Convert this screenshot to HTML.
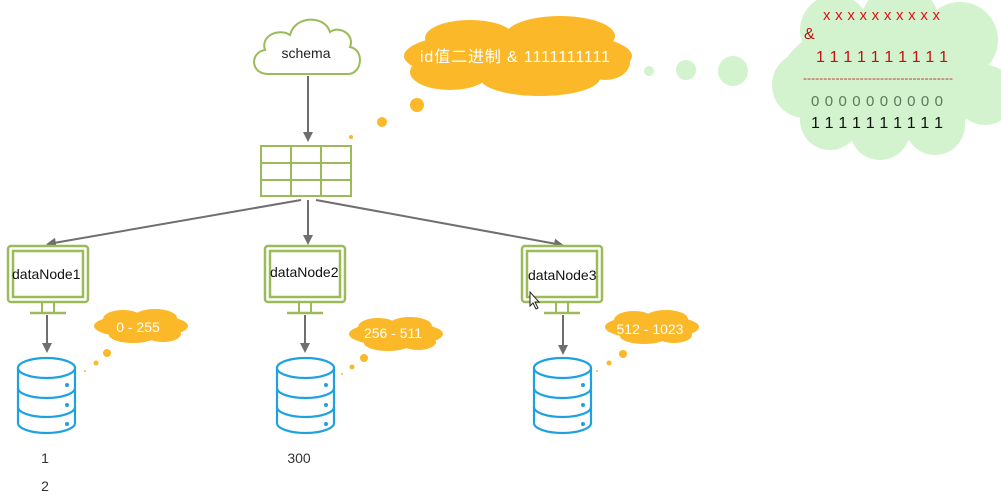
<!DOCTYPE html>
<html><head><meta charset="utf-8"><style>
html,body{margin:0;padding:0;background:#fff;width:1001px;height:496px;overflow:hidden}
svg{display:block}
text{font-family:"Liberation Sans","Noto Sans CJK SC",sans-serif}
</style></head><body>
<svg width="1001" height="496" viewBox="0 0 1001 496" xmlns="http://www.w3.org/2000/svg">
<defs>
<marker id="ar" markerWidth="10" markerHeight="10" refX="8" refY="5" orient="auto" markerUnits="userSpaceOnUse">
<path d="M0,0 L10,5 L0,10 Z" fill="#6f6f6f"/></marker>
<g id="mon">
<rect x="0" y="0" width="80" height="56" rx="3" fill="#fff" stroke="#9bbb59" stroke-width="2.5"/>
<rect x="5" y="5" width="70" height="46" fill="none" stroke="#9bbb59" stroke-width="2.5"/>
<rect x="34" y="56" width="12" height="11" fill="none" stroke="#9bbb59" stroke-width="2"/>
<line x1="22" y1="67" x2="58" y2="67" stroke="#9bbb59" stroke-width="2.5"/>
</g>
<g id="db" fill="#fff" stroke="#1ea1e0" stroke-width="2.2">
<path d="M0,11 L0,66 A28.5,10 0 0 0 57,66 L57,11"/>
<ellipse cx="28.5" cy="11" rx="28.5" ry="10"/>
<path d="M0,31 A28.5,10 0 0 0 57,31" fill="none"/>
<path d="M0,50 A28.5,10 0 0 0 57,50" fill="none"/>
<circle cx="49" cy="28" r="2" fill="#1ea1e0" stroke="none"/>
<circle cx="49" cy="48" r="2" fill="#1ea1e0" stroke="none"/>
<circle cx="49" cy="67" r="2" fill="#1ea1e0" stroke="none"/>
</g>
<g id="oc" fill="#fbb829">
<ellipse cx="48" cy="17" rx="47" ry="12"/>
<ellipse cx="30" cy="10" rx="20" ry="9"/><ellipse cx="62" cy="9" rx="22" ry="9"/>
<ellipse cx="40" cy="26" rx="24" ry="8"/><ellipse cx="70" cy="25" rx="18" ry="8"/>
</g>
</defs>

<!-- green cloud -->
<g fill="#d3f3ce">
<ellipse cx="885" cy="80" rx="105" ry="62"/>
<circle cx="835" cy="30" r="35"/><circle cx="900" cy="25" r="40"/><circle cx="960" cy="40" r="38"/>
<circle cx="985" cy="95" r="30"/><circle cx="805" cy="85" r="33"/><circle cx="830" cy="120" r="30"/>
<circle cx="880" cy="130" r="30"/><circle cx="935" cy="125" r="30"/>
</g>
<circle cx="649" cy="71" r="5" fill="#d3f3ce"/>
<circle cx="686" cy="70" r="10" fill="#d3f3ce"/>
<circle cx="733" cy="71" r="15" fill="#d3f3ce"/>
<text x="823" y="20" font-size="15" fill="#e01010" textLength="117">x x x x x x x x x x</text>
<text x="804" y="39" font-size="16" fill="#c01010" font-family="Liberation Serif">&amp;</text>
<text x="816" y="62" font-size="16" fill="#c01010" textLength="132">1 1 1 1 1 1 1 1 1 1</text>
<text x="803" y="82" font-size="12" fill="#c03030" textLength="150">-------------------------------------</text>
<text x="811" y="106" font-size="15" fill="#5a7a5a" textLength="132">0 0 0 0 0 0 0 0 0 0</text>
<text x="811" y="128" font-size="16" fill="#111" textLength="132">1 1 1 1 1 1 1 1 1 1</text>

<!-- schema cloud -->
<path d="M268,74 C250,74 250,52 265,50 C260,35 280,28 290,35 C295,15 325,15 330,32 C340,25 355,35 350,47 C365,50 362,74 348,74 Z" fill="#fff" stroke="#9bbb59" stroke-width="2"/>
<text x="306" y="58" font-size="14" text-anchor="middle" fill="#222">schema</text>
<line x1="308" y1="76" x2="308" y2="140" stroke="#6f6f6f" stroke-width="2" marker-end="url(#ar)"/>

<!-- big orange cloud -->
<g fill="#fbb829">
<ellipse cx="518" cy="56" rx="114" ry="27"/>
<ellipse cx="470" cy="38" rx="45" ry="18"/><ellipse cx="560" cy="36" rx="55" ry="20"/>
<ellipse cx="450" cy="72" rx="40" ry="18"/><ellipse cx="540" cy="78" rx="60" ry="18"/>
<ellipse cx="605" cy="62" rx="25" ry="18"/>
</g>
<text x="420" y="62" font-size="16" fill="#fff" textLength="190">id值二进制 &amp; 1111111111</text>
<circle cx="417" cy="105" r="7" fill="#fbb829"/>
<circle cx="382" cy="122" r="5" fill="#fbb829"/>
<circle cx="351" cy="137" r="2" fill="#fbb829"/>

<!-- table -->
<g fill="none" stroke="#9bbb59" stroke-width="2">
<rect x="261" y="146" width="90" height="50"/>
<line x1="291" y1="146" x2="291" y2="196"/><line x1="321" y1="146" x2="321" y2="196"/>
<line x1="261" y1="163" x2="351" y2="163"/><line x1="261" y1="180" x2="351" y2="180"/>
</g>
<g stroke="#6f6f6f" stroke-width="2" fill="none">
<line x1="301" y1="200" x2="48" y2="244" marker-end="url(#ar)"/>
<line x1="308" y1="200" x2="308" y2="243" marker-end="url(#ar)"/>
<line x1="316" y1="200" x2="562" y2="245" marker-end="url(#ar)"/>
</g>

<!-- monitors -->
<use href="#mon" x="8" y="246"/>
<use href="#mon" x="265" y="246"/>
<use href="#mon" x="522" y="246"/>
<text x="12" y="279" font-size="14" fill="#111">dataNode1</text>
<text x="270" y="277" font-size="14" fill="#111">dataNode2</text>
<text x="528" y="280" font-size="14" fill="#111">dataNode3</text>

<g stroke="#6f6f6f" stroke-width="2">
<line x1="47" y1="315" x2="47" y2="351" marker-end="url(#ar)"/>
<line x1="305" y1="315" x2="305" y2="351" marker-end="url(#ar)"/>
<line x1="563" y1="315" x2="563" y2="353" marker-end="url(#ar)"/>
</g>

<use href="#db" x="18" y="357"/>
<use href="#db" x="277" y="357"/>
<use href="#db" x="534" y="357"/>

<use href="#oc" x="93" y="309"/>
<text x="138" y="332" font-size="14" text-anchor="middle" fill="#fff">0 - 255</text>
<circle cx="107" cy="353" r="4" fill="#fbb829"/><circle cx="96" cy="363" r="2.5" fill="#fbb829"/><circle cx="85" cy="371" r="1" fill="#fbb829"/>
<use href="#oc" x="348" y="317"/>
<text x="393" y="338" font-size="14" text-anchor="middle" fill="#fff">256 - 511</text>
<circle cx="364" cy="358" r="4" fill="#fbb829"/><circle cx="352" cy="367" r="2.5" fill="#fbb829"/><circle cx="342" cy="374" r="1" fill="#fbb829"/>
<use href="#oc" x="604" y="310"/>
<text x="650" y="334" font-size="14" text-anchor="middle" fill="#fff">512 - 1023</text>
<circle cx="623" cy="354" r="4" fill="#fbb829"/><circle cx="609" cy="363" r="2.5" fill="#fbb829"/><circle cx="597" cy="371" r="1" fill="#fbb829"/>

<text x="45" y="463" font-size="14" text-anchor="middle" fill="#333">1</text>
<text x="45" y="491" font-size="14" text-anchor="middle" fill="#333">2</text>
<text x="299" y="463" font-size="14" text-anchor="middle" fill="#333">300</text>

<!-- cursor -->
<path d="M530,292 L530,306 L533,303 L536,309 L538,308 L535,302 L539,302 Z" fill="#fff" stroke="#222" stroke-width="1"/>
</svg>
</body></html>
